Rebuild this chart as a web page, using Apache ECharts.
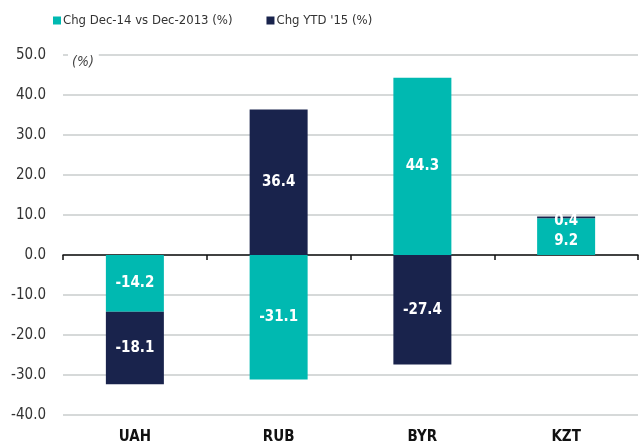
<!DOCTYPE html>
<html>
<head>
<meta charset="utf-8">
<script src="https://cdn.jsdelivr.net/npm/echarts@6/dist/echarts.min.js"></script>
<style>
  html, body { margin: 0; padding: 0; background: #fff; }
  #chart { width: 643px; height: 446px; }
</style>
</head>
<body>
<div id="chart"></div>
<script>
var categories = ['UAH', 'RUB', 'BYR', 'KZT'];
var chgDec = [-14.2, -31.1, 44.3, 9.2];
var chgYtd = [-18.1, 36.4, -27.4, 0.4];
var seriesNames = ['Chg Dec-14 vs Dec-2013 (%)', "Chg YTD '15 (%)"];

var FONT = '"DejaVu Sans Condensed", "Liberation Sans Narrow", sans-serif';
var TEAL = '#00b9b1';
var NAVY = '#19234c';

function barLabel(p) {
  return p.value.toFixed(1);
}

var myChart = echarts.init(document.getElementById('chart'));
var option = {
  animation: false,
  textStyle: { fontFamily: FONT },
  legend: {
    left: 48,
    top: 9,
    itemWidth: 8,
    itemHeight: 8,
    itemGap: 34,
    icon: 'rect',
    textStyle: { fontFamily: FONT, fontSize: 13, color: '#333', padding: [0, 0, 0, -3] },
    data: seriesNames
  },
  grid: { left: 63, right: 5, top: 55, bottom: 31, containLabel: false },
  xAxis: [{
    type: 'category',
    data: categories,
    position: 'bottom',
    axisLine: { show: false, onZero: false },
    axisTick: { show: false },
    axisLabel: { fontFamily: FONT, fontSize: 15, fontWeight: 'bold', color: '#111', margin: 15 }
  }, {
    type: 'category',
    data: categories,
    axisLine: { show: true, onZero: true, lineStyle: { color: '#111', width: 1.5 } },
    axisTick: { show: true, length: 5, lineStyle: { color: '#111', width: 1.5 } },
    axisLabel: { show: false },
    position: 'bottom'
  }],
  yAxis: {
    type: 'value',
    min: -40,
    max: 50,
    interval: 10,
    axisLine: { show: false },
    axisTick: { show: false },
    splitLine: { lineStyle: { color: '#c9cdcd', width: 1.5 } },
    axisLabel: {
      fontFamily: FONT, fontSize: 15, color: '#333', margin: 17,
      formatter: function (v) { return v.toFixed(1); }
    }
  },
  series: [{
    name: seriesNames[0],
    type: 'bar',
    stack: 'chg',
    barWidth: 58,
    itemStyle: { color: TEAL },
    label: { show: true, position: 'inside', color: '#fff', fontFamily: FONT, fontSize: 15, fontWeight: 'bold', formatter: barLabel },
    data: chgDec.map(function (v, i) {
      return i === 3 ? { value: v, label: { offset: [0, 5] } } : v;
    })
  }, {
    name: seriesNames[1],
    type: 'bar',
    stack: 'chg',
    barWidth: 58,
    itemStyle: { color: NAVY },
    label: { show: true, position: 'inside', color: '#fff', fontFamily: FONT, fontSize: 15, fontWeight: 'bold', formatter: barLabel },
    data: chgYtd.map(function (v, i) {
      return i === 3 ? { value: v, label: { offset: [0, 4] } } : v;
    })
  }],
  graphic: [{
    type: 'text',
    left: 68,
    top: 52,
    z: 100,
    style: {
      text: '(%)',
      fontFamily: FONT,
      fontSize: 14,
      fontStyle: 'italic',
      fill: '#444',
      backgroundColor: '#fff',
      padding: [3, 5, 2, 4]
    }
  }]
};
myChart.setOption(option);
</script>
</body>
</html>
